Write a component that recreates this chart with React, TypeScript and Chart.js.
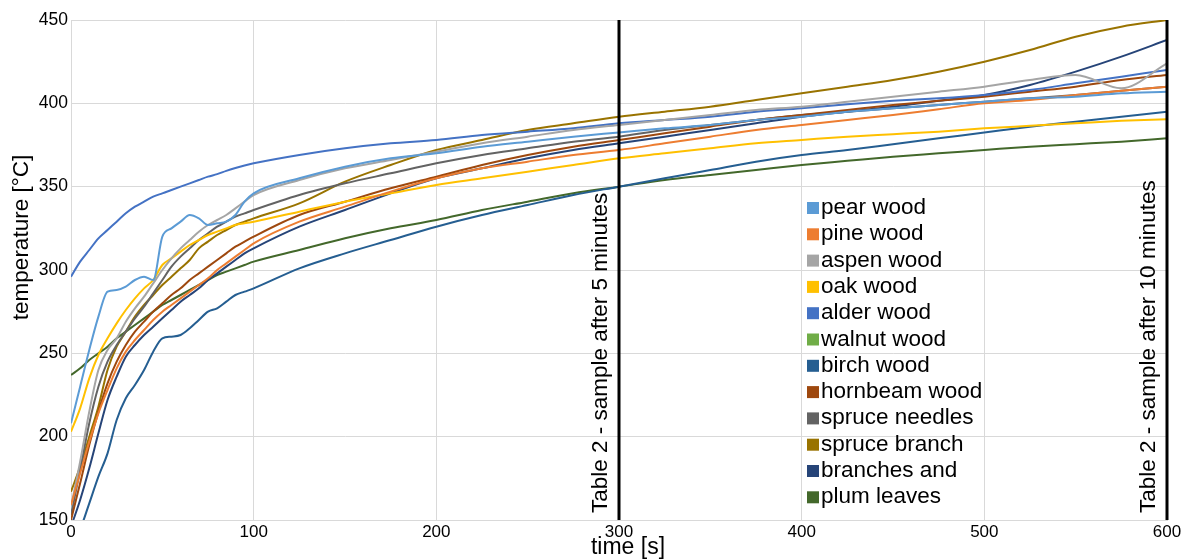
import React, { useEffect, useRef } from 'react';
import { Chart, registerables } from 'chart.js';

Chart.register(...registerables);

// time grid [s]
const times = [0, 5, 10, 15, 20, 25, 30, 35, 40, 45, 50, 55, 60, 65, 70, 75, 80, 85, 90, 95, 100,
  125, 150, 175, 200, 225, 250, 275, 300, 325, 350, 375, 400, 425, 450, 475, 500, 525, 550, 575, 600];

const pearWood = [208, 230, 252, 272, 287, 288, 290, 294, 296, 294, 320, 325, 329, 333, 331, 327, 328, 329, 333, 341, 346,
  355, 362, 367, 370, 374, 377, 380, 382.5, 385, 387, 390, 392, 395, 397, 399, 401, 403, 404, 406, 407];
const pineWood = [159, 178, 197, 214, 228, 241, 251, 258, 264, 270, 275, 279, 283, 287, 291, 295, 300, 304, 308, 312, 316,
  329, 338, 347, 355, 361, 365, 369, 372, 376, 380, 384, 387, 390, 393, 396.5, 400, 402, 405, 407.5, 410];
const aspenWood = [158, 185, 215, 240, 252, 259, 269, 277, 284, 292, 300, 307, 313, 318, 323, 327, 330, 333, 337, 341, 345,
  354, 361, 366, 371, 376, 380, 384, 387, 390, 393, 396, 398, 401, 404, 407, 410, 414, 417, 409, 424];
const oakWood = [203, 217, 235, 249, 259, 268, 276, 283, 289, 294, 303, 307, 311, 315, 318, 321, 323, 325, 327, 328, 329,
  335, 341, 346, 351, 355, 359, 363, 367, 370, 373, 376, 378, 380, 381.5, 383, 385, 386.5, 388, 389.5, 390.5];
const alderWood = [296, 305, 312, 319, 324, 329, 334, 338, 341, 344, 346, 348, 350, 352, 354, 356, 357.5, 359.5, 361.2, 362.7, 364,
  369, 373, 376, 378, 381, 383, 385, 388, 390, 392, 395, 397, 399.5, 401.5, 403, 405, 408, 412, 416, 420];
const walnutWood: number[] = [];
const birchWood = [130, 144, 160, 176, 190, 210, 223, 231, 240, 251, 259, 260, 261, 265, 270, 275, 277, 281, 285, 287, 289,
  301, 310, 318, 326, 333, 339, 345, 350, 355, 360, 365, 369, 372, 375.5, 379, 382.5, 386, 389, 392, 395];
const hornbeamWood = [150, 172, 195, 215, 232, 245, 255, 263, 269, 275, 280, 285, 289, 294, 298, 302, 306, 310, 314, 317, 320,
  333, 341, 349, 356, 363, 369, 374, 378, 382, 386, 390, 393, 396, 399, 401.5, 404, 407, 410, 414, 417];
const spruceNeedles = [153, 180, 208, 230, 245, 255, 263, 271, 278, 286, 294, 302, 308, 313, 318, 322, 326, 329, 332, 334, 336,
  345, 352, 358, 364, 369, 373, 377, 380, 384, 387, 390, 393, 395, 397, 399, 401, 403, 405, 407.5, 410];
const spruceBranch = [167, 182, 200, 218, 240, 254, 263, 272, 279, 285, 291, 296, 301, 306, 313, 317, 321, 324, 327, 329, 331,
  340, 353, 363, 372, 378, 384, 388, 392, 395, 398, 402, 406, 410, 414, 419, 425, 432, 440, 446, 450];
const branchesAnd = [146, 162, 181, 202, 222, 236, 248, 255, 261, 266, 271, 276, 281, 285, 289, 294, 298, 302, 306, 310, 313,
  326, 336, 346, 355, 361, 367, 372, 376, 380, 384, 388, 392, 395, 398, 401.5, 405, 411, 419, 428, 438];
const plumLeaves = [237, 241, 246, 250, 254, 259, 263, 267, 271, 275, 279, 282, 285, 288, 291, 294, 297, 299, 301, 303, 305,
  312, 319, 325, 330, 336, 341, 346, 350, 354, 357, 360, 363, 365.5, 368, 370, 372, 374, 375.5, 377, 379];

const seriesNames = ['pear wood', 'pine wood', 'aspen wood', 'oak wood', 'alder wood', 'walnut wood', 'birch wood',
  'hornbeam wood', 'spruce needles', 'spruce branch', 'branches and', 'plum leaves'];
const seriesValues = [pearWood, pineWood, aspenWood, oakWood, alderWood, walnutWood, birchWood, hornbeamWood,
  spruceNeedles, spruceBranch, branchesAnd, plumLeaves];
const seriesColors = ['#5B9BD5', '#ED7D31', '#A5A5A5', '#FFC000', '#4472C4', '#70AD47', '#255E91', '#9E480E',
  '#636363', '#997300', '#264478', '#43682B'];

const markerTimes = [300, 600];
const markerLabels = ['Table 2 - sample after 5 minutes', 'Table 2 - sample after 10 minutes'];
const xTitle = 'time [s]';
const yTitle = 'temperature [°C]';

const FONT = '"Liberation Sans", Arial, sans-serif';

const overlayPlugin = {
  id: 'overlay',
  afterDatasetsDraw(chart: any) {
    const { ctx, chartArea, scales } = chart;
    ctx.save();
    markerTimes.forEach((t, i) => {
      const px = scales.x.getPixelForValue(t);
      ctx.strokeStyle = '#000';
      ctx.lineWidth = 3;
      ctx.beginPath();
      ctx.moveTo(px, chartArea.top);
      ctx.lineTo(px, chartArea.bottom);
      ctx.stroke();
      ctx.save();
      ctx.translate(px - 12.5, chartArea.bottom - 7);
      ctx.rotate(-Math.PI / 2);
      ctx.font = '22.5px ' + FONT;
      ctx.fillStyle = '#000';
      ctx.textAlign = 'left';
      ctx.textBaseline = 'alphabetic';
      ctx.fillText(markerLabels[i], 0, 0);
      ctx.restore();
    });
    // legend inside plot area
    const x0 = chartArea.left + 736;
    const base0 = chartArea.top + 194;
    const step = 26.3;
    ctx.font = '22.5px ' + FONT;
    ctx.textAlign = 'left';
    ctx.textBaseline = 'alphabetic';
    seriesNames.forEach((name, i) => {
      const by = base0 + i * step;
      ctx.fillStyle = seriesColors[i];
      ctx.fillRect(x0, by - 12, 12, 12);
      ctx.fillStyle = '#000';
      ctx.fillText(name, x0 + 14, by);
    });
    // axis titles
    ctx.fillStyle = '#000';
    ctx.font = '23px ' + FONT;
    ctx.textAlign = 'center';
    ctx.fillText(xTitle, 628, 553.5);
    ctx.save();
    ctx.translate(28, 237.5);
    ctx.rotate(-Math.PI / 2);
    ctx.font = '22.5px ' + FONT;
    ctx.textAlign = 'center';
    ctx.fillText(yTitle, 0, 0);
    ctx.restore();
    ctx.restore();
  },
};

export default function App() {
  const ref = useRef<HTMLCanvasElement>(null);
  useEffect(() => {
    if (!ref.current) return;
    const datasets = seriesNames.map((name, i) => ({
      label: name,
      data: seriesValues[i].map((v, j) => ({ x: times[j], y: v })),
      borderColor: seriesColors[i],
      backgroundColor: seriesColors[i],
      borderWidth: 2,
      pointRadius: 0,
      cubicInterpolationMode: 'monotone' as const,
      fill: false,
    }));
    const chart = new Chart(ref.current, {
      type: 'line',
      data: { datasets },
      options: {
        animation: false,
        responsive: false,
        devicePixelRatio: 1,
        layout: { padding: { top: 20, right: 18, left: 0, bottom: 0 } },
        plugins: { legend: { display: false }, tooltip: { enabled: false } },
        scales: {
          x: {
            type: 'linear',
            min: 0,
            max: 600,
            ticks: { stepSize: 100, color: '#000', font: { family: FONT, size: 17 }, padding: 2, maxRotation: 0 },
            grid: { color: '#d9d9d9', drawTicks: false },
            border: { color: '#d9d9d9' },
            title: { display: false },
            afterFit: (s: any) => { s.height = 39; },
          },
          y: {
            type: 'linear',
            min: 150,
            max: 450,
            ticks: { stepSize: 50, color: '#000', font: { family: FONT, size: 17.5 }, padding: 3 },
            grid: { color: '#d9d9d9', drawTicks: false },
            border: { color: '#d9d9d9' },
            title: { display: false },
            afterFit: (s: any) => { s.width = 71; },
          },
        },
      },
      plugins: [overlayPlugin],
    });
    return () => chart.destroy();
  }, []);
  return (
    <div style={{ position: 'fixed', left: 0, top: 0, width: 1185, height: 559, background: '#fff' }}>
      <canvas ref={ref} width={1185} height={559} style={{ width: 1185, height: 559 }} />
    </div>
  );
}
